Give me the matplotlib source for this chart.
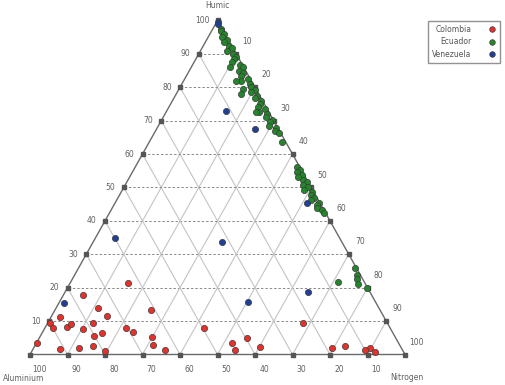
import numpy as np
import matplotlib
matplotlib.use('Agg')
import matplotlib.pyplot as plt
from matplotlib.lines import Line2D

# Compositions in percent: top component and bottom-left component
# (the bottom-right component is the remainder to 100)
colombia_top = [21.4, 17.8, 13.9, 13.3, 11.5, 11.2, 9.4, 7.9, 8.2, 9.1, 9.4, 7.6, 6.4, 5.5,
                7.9, 6.7, 5.2, 2.8, 3.4, 1.6, 1.9, 2.5, 1.0, 1.3, 7.9, 3.4, 1.3, 4.9, 2.2,
                9.4, 1.9, 2.5, 1.9, 0.7, 1.3]
colombia_left = [63.2, 77.0, 74.9, 61.1, 73.7, 86.4, 90.0, 89.9, 86.0, 84.5, 78.5, 82.1, 77.6, 80.2,
                 70.5, 69.2, 64.9, 65.8, 96.4, 91.2, 86.0, 82.0, 79.5, 63.3, 49.7, 44.4, 44.6, 39.7, 37.6,
                 22.5, 18.5, 14.8, 8.3, 7.6, 10.0]

ecuador_top = [97.5, 96.8, 96.0, 95.0, 94.2, 93.5, 92.5, 91.8, 91.0, 90.0, 89.2, 88.5, 87.5, 86.8,
               86.0, 85.0, 84.3, 83.5, 82.5, 81.8, 81.0, 80.0, 79.2, 78.5, 77.5, 76.8, 76.0, 75.0,
               74.2, 73.5, 72.7, 72.0, 71.0, 70.2, 69.5, 68.5, 67.8, 67.0, 66.2, 63.7,
               86.0, 82.0, 79.5, 78.0, 72.7,
               56.0, 55.2, 54.5, 53.8, 53.0, 52.2, 51.5, 50.8, 50.0, 49.2, 48.5, 47.8, 47.0,
               46.2, 45.5, 44.8, 44.0, 43.2, 42.5,
               21.7, 23.8, 19.9, 25.9, 22.5, 21.0]
ecuador_left = [0.3, 0.8, 0.2, 1.2, 0.5, 1.6, 0.6, 0.2, 2.0, 0.9, 0.4, 1.4, 2.4, 0.6,
                0.2, 1.7, 1.0, 2.1, 0.5, 2.8, 0.9, 1.2, 0.3, 1.8, 0.7, 1.5, 0.4, 1.1,
                2.0, 0.5, 2.5, 0.9, 1.6, 0.4, 1.2, 1.9, 0.6, 1.3, 0.5, 0.9,
                3.6, 4.0, 3.5, 4.6, 3.4,
                0.8, 0.3, 1.6, 0.6, 2.0, 1.2, 0.4, 1.8, 0.9, 2.3, 0.5, 1.3, 0.8,
                1.9, 0.3, 1.0, 1.5, 0.6, 0.3,
                7.0, 0.9, 0.2, 0.3, 1.5, 2.0]

venezuela_top = [99.5, 98.8, 15.4, 34.9, 33.7, 73.0, 15.7, 18.7, 67.6, 45.4]
venezuela_left = [0.2, 0.6, 83.2, 59.9, 32.0, 11.2, 34.0, 16.5, 6.2, 3.4]

series_names = ["Colombia", "Ecuador", "Venezuela"]
series_colors = ["#e8302a", "#24862a", "#1f3f9a"]

axis_names = ["Humic", "Aluminium", "Nitrogen"]   # top, bottom-left, bottom-right
ticks = [10, 20, 30, 40, 50, 60, 70, 80, 90, 100]

H = np.sqrt(3) / 2


def project(top, left):
    """Ternary percentages -> cartesian coordinates of an equilateral triangle."""
    t = np.asarray(top, dtype=float) / 100.0
    l = np.asarray(left, dtype=float) / 100.0
    return 1.0 - l - t / 2.0, t * H


fig = plt.figure(figsize=(5.05, 3.85), dpi=100)
ax = fig.add_axes([0, 0, 1, 1])
ax.set_xlim(-0.08, -0.08 + 505 / 375)
ax.set_ylim(-30.5 / 385.7, -30.5 / 385.7 + 385 / 385.7)
ax.axis('off')

grid_kw = dict(color='#c4c4c4', lw=0.8, zorder=1)
for v in ticks[:-1]:
    f = v / 100.0
    # constant top component: dashed horizontal lines
    ax.plot([f / 2, 1 - f / 2], [f * H, f * H], color='#8a8a8a', lw=0.7,
            ls=(0, (2.5, 2)), zorder=1)
    # constant left component
    ax.plot([1 - f, (1 - f) / 2], [0, (1 - f) * H], **grid_kw)
    # constant right component
    ax.plot([f, f + (1 - f) / 2], [0, (1 - f) * H], **grid_kw)

# triangle outline
ax.plot([0, 1, 0.5, 0], [0, 0, H, 0], color='#6a6a6a', lw=1.0, zorder=2)

# tick marks and labels on the three edges
tick_kw = dict(marker='s', ms=2.6, color='#555555', ls='none', zorder=3)
lab_kw = dict(fontsize=5.5, color='#606060', zorder=3)
for v in ticks:
    f = v / 100.0
    # left edge: top component
    ax.plot(f / 2, f * H, **tick_kw)
    ax.text(f / 2 - 0.022, f * H, str(v), ha='right', va='center', **lab_kw)
    # bottom edge: left component
    ax.plot(1 - f, 0, **tick_kw)
    ax.text(1 - f + 0.024, -0.038, str(v), ha='center', va='center', **lab_kw)
    # right edge: right component
    ax.plot(f + (1 - f) / 2, (1 - f) * H, **tick_kw)
    ax.text(f + (1 - f) / 2 + 0.03, (1 - f) * H + 0.032, str(v), ha='center', va='center', **lab_kw)

ax.text(0.5, H + 0.04, axis_names[0], ha='center', va='center', **lab_kw)
ax.text(-0.072, -0.062, axis_names[1], ha='left', va='center', **lab_kw)
ax.text(0.96, -0.06, axis_names[2], ha='left', va='center', **lab_kw)

data = [(colombia_top, colombia_left), (ecuador_top, ecuador_left), (venezuela_top, venezuela_left)]
for (top, left), color in zip(data, series_colors):
    x, y = project(top, left)
    ax.scatter(x, y, s=20, color=color, edgecolors='#3a3a3a', linewidths=0.5, zorder=4)

handles = [Line2D([], [], marker='o', ls='none', ms=4, markerfacecolor=c,
                  markeredgecolor='#3a3a3a', markeredgewidth=0.5, label=n)
           for n, c in zip(series_names, series_colors)]
leg = fig.legend(handles=handles, loc='upper right', bbox_to_anchor=(0.997, 0.955),
                 markerfirst=False, fontsize=5.5, frameon=True, fancybox=False,
                 edgecolor='#777777', borderpad=0.5, labelspacing=0.45,
                 handletextpad=2.2, handlelength=1.0)
for t in leg.get_texts():
    t.set_color('#555555')

fig.savefig('out.png', dpi=100)
